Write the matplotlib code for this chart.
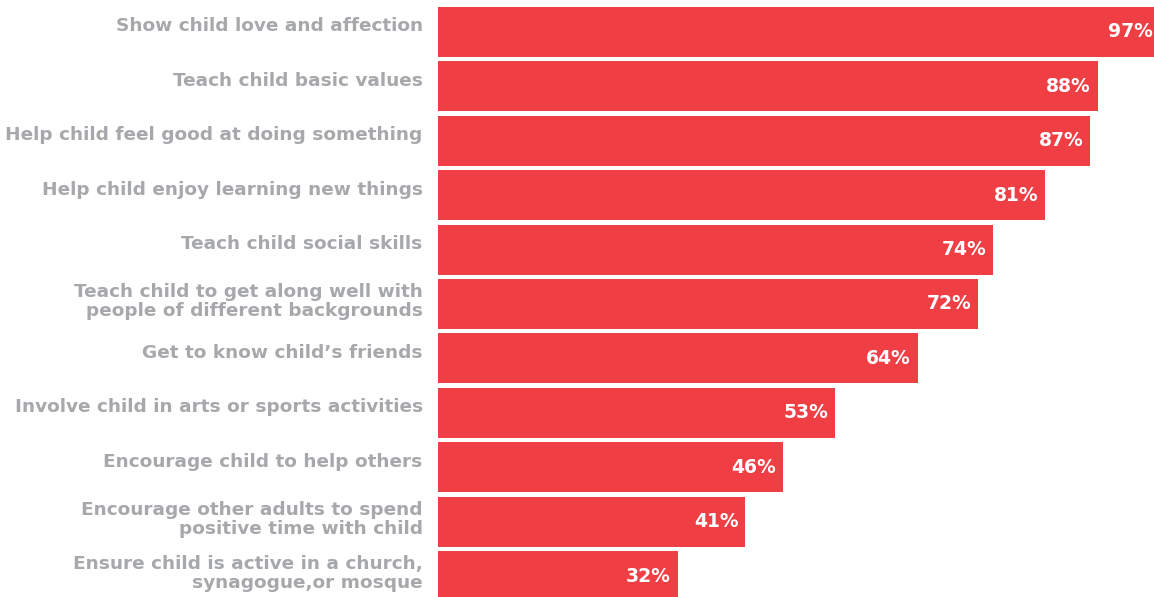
import numpy as np
import matplotlib.pyplot as plt

labels = [
    "Show child love and affection",
    "Teach child basic values",
    "Help child feel good at doing something",
    "Help child enjoy learning new things",
    "Teach child social skills",
    "Teach child to get along well with\npeople of different backgrounds",
    "Get to know child\u2019s friends",
    "Involve child in arts or sports activities",
    "Encourage child to help others",
    "Encourage other adults to spend\npositive time with child",
    "Ensure child is active in a church,\nsynagogue,or mosque",
]
values = [97, 88, 87, 81, 74, 72, 64, 53, 46, 41, 32]

bar_color = '#EF3E44'
label_color = '#A6A8AB'

fig = plt.figure(figsize=(11.54, 5.97), dpi=100)
ax = fig.add_axes([438 / 1154, 0, 1 - 438 / 1154, 1])

pos = np.arange(len(values))
ax.barh(pos, values, height=0.92, color=bar_color)

xmax = 95.47
ax.set_xlim(0, xmax)
ax.set_ylim(10.386, -0.588)

for p, v in zip(pos, values):
    # value label inside the bar end (bar may run past the figure edge)
    x = min(v, xmax)
    dx = -5 if v <= xmax else -1
    ax.annotate(f"{v}%", xy=(x, p), xytext=(dx, 0), textcoords='offset points',
                ha='right', va='center', color='white', fontsize=13.5,
                fontweight='bold', annotation_clip=False)

for p, lab in zip(pos, labels):
    dy = 4 if '\n' not in lab else 1.5
    ax.annotate(lab, xy=(0, p), xytext=(-11, dy), textcoords='offset points',
                ha='right', va='center', multialignment='right',
                color=label_color, fontsize=13.3, fontweight='bold',
                linespacing=1.08, annotation_clip=False)

ax.set_xticks([])
ax.set_yticks([])
for s in ax.spines.values():
    s.set_visible(False)

fig.savefig('out.png', dpi=100)
